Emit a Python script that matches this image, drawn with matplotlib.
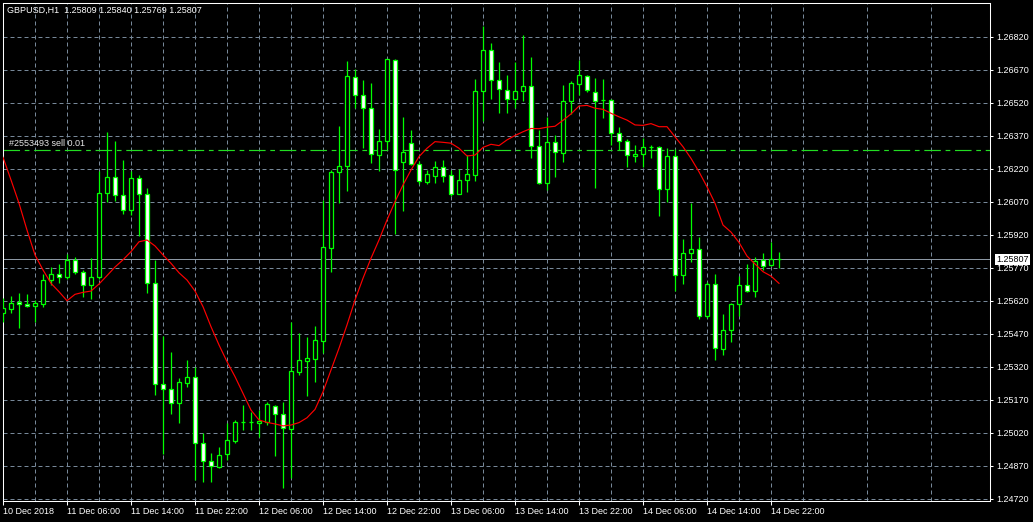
import matplotlib
matplotlib.use("Agg")
import matplotlib.pyplot as plt
import matplotlib.transforms as mtransforms
import numpy as np

plt.rcParams['font.family'] = ['Liberation Sans', 'DejaVu Sans']

# chart data (H1 bars, 10 Dec 2018 22:00 .. 14 Dec 2018 23:00)
title_text = "GBPUSD,H1  1.25809 1.25840 1.25769 1.25807"
order_label = "#2553493 sell 0.01"
order_price = 1.26303
last_price = 1.25807

opens = [1.25565, 1.25583, 1.25612, 1.25604, 1.25594, 1.25605, 1.25712, 1.25739, 1.25725, 1.25803,
         1.25748, 1.25689, 1.25725, 1.26107, 1.26180, 1.26098, 1.26030, 1.26175, 1.26103, 1.25698,
         1.25239, 1.25216, 1.25153, 1.25246, 1.25271, 1.24971, 1.24889, 1.24865, 1.24921, 1.24983,
         1.25066, 1.25066, 1.25065, 1.25069, 1.25142, 1.25103, 1.25035, 1.25296, 1.25346, 1.25355,
         1.25437, 1.25860, 1.26203, 1.26230, 1.26635, 1.26553, 1.26494, 1.26280, 1.26344, 1.26712,
         1.26248, 1.26334, 1.26239, 1.26160, 1.26187, 1.26225, 1.26189, 1.26105, 1.26166, 1.26189,
         1.26571, 1.26757, 1.26621, 1.26575, 1.26535, 1.26571, 1.26594, 1.26321, 1.26153, 1.26339,
         1.26289, 1.26525, 1.26606, 1.26639, 1.26566, 1.26530, 1.26530, 1.26380, 1.26344, 1.26278,
         1.26288, 1.26318, 1.26316, 1.26125, 1.26275, 1.25735, 1.25835, 1.25853, 1.25551, 1.25694,
         1.25398, 1.25485, 1.25603, 1.25689, 1.25662, 1.25803, 1.25780, 1.25809]
highs = [1.25630, 1.25640, 1.25653, 1.25650, 1.25622, 1.25740, 1.25771, 1.25785, 1.25830, 1.25819,
         1.25760, 1.25812, 1.26210, 1.26385, 1.26345, 1.26259, 1.26210, 1.26190, 1.26130, 1.25804,
         1.25459, 1.25386, 1.25269, 1.25350, 1.25316, 1.25019, 1.24925, 1.24954, 1.25065, 1.25077,
         1.25145, 1.25115, 1.25122, 1.25157, 1.25145, 1.25159, 1.25524, 1.25471, 1.25455, 1.25504,
         1.26077, 1.26213, 1.26413, 1.26709, 1.26672, 1.26622, 1.26609, 1.26400, 1.26719, 1.26716,
         1.26453, 1.26395, 1.26256, 1.26215, 1.26255, 1.26259, 1.26213, 1.26216, 1.26283, 1.26625,
         1.26866, 1.26790, 1.26704, 1.26644, 1.26704, 1.26827, 1.26727, 1.26395, 1.26454, 1.26372,
         1.26600, 1.26618, 1.26713, 1.26645, 1.26630, 1.26627, 1.26536, 1.26409, 1.26353, 1.26327,
         1.26357, 1.26327, 1.26324, 1.26312, 1.26309, 1.25898, 1.26062, 1.25907, 1.25705, 1.25739,
         1.25559, 1.25610, 1.25731, 1.25786, 1.25816, 1.25837, 1.25885, 1.25840]
lows = [1.25524, 1.25565, 1.25496, 1.25589, 1.25521, 1.25592, 1.25690, 1.25698, 1.25718, 1.25739,
        1.25637, 1.25628, 1.25718, 1.26066, 1.26072, 1.26015, 1.26010, 1.25913, 1.25654, 1.25190,
        1.24921, 1.25103, 1.25065, 1.25228, 1.24804, 1.24796, 1.24796, 1.24860, 1.24895, 1.24974,
        1.25031, 1.25031, 1.25001, 1.25053, 1.24915, 1.24769, 1.24812, 1.25281, 1.25186, 1.25251,
        1.25383, 1.25751, 1.26062, 1.26119, 1.26494, 1.26315, 1.26246, 1.26210, 1.26309, 1.25921,
        1.26027, 1.26236, 1.26150, 1.26151, 1.26154, 1.26160, 1.26096, 1.26103, 1.26115, 1.26163,
        1.26437, 1.26537, 1.26474, 1.26474, 1.26495, 1.26527, 1.26270, 1.26148, 1.26122, 1.26181,
        1.26250, 1.26468, 1.26554, 1.26569, 1.26133, 1.26451, 1.26327, 1.26302, 1.26228, 1.26250,
        1.26228, 1.26268, 1.26005, 1.26069, 1.25663, 1.25694, 1.25793, 1.25535, 1.25539, 1.25350,
        1.25372, 1.25433, 1.25551, 1.25659, 1.25637, 1.25759, 1.25777, 1.25769]
closes = [1.25585, 1.25607, 1.25603, 1.25594, 1.25607, 1.25712, 1.25739, 1.25725, 1.25804, 1.25748,
          1.25689, 1.25727, 1.26107, 1.26180, 1.26098, 1.26030, 1.26175, 1.26103, 1.25698, 1.25239,
          1.25216, 1.25153, 1.25248, 1.25271, 1.24971, 1.24892, 1.24868, 1.24916, 1.24985, 1.25066,
          1.25066, 1.25066, 1.25072, 1.25148, 1.25103, 1.25039, 1.25298, 1.25348, 1.25359, 1.25439,
          1.25862, 1.26204, 1.26230, 1.26639, 1.26553, 1.26494, 1.26285, 1.26344, 1.26716, 1.26212,
          1.26294, 1.26239, 1.26161, 1.26195, 1.26225, 1.26187, 1.26103, 1.26166, 1.26194, 1.26571,
          1.26757, 1.26621, 1.26580, 1.26535, 1.26571, 1.26594, 1.26321, 1.26153, 1.26339, 1.26294,
          1.26525, 1.26607, 1.26644, 1.26579, 1.26529, 1.26530, 1.26380, 1.26344, 1.26280, 1.26285,
          1.26316, 1.26318, 1.26125, 1.26279, 1.25735, 1.25835, 1.25853, 1.25551, 1.25694, 1.25403,
          1.25486, 1.25603, 1.25689, 1.25662, 1.25798, 1.25779, 1.25807, 1.25807]
# moving average (red line)
ma = [1.26271, 1.26168, 1.26062, 1.25940, 1.25827, 1.25759, 1.25698, 1.25660, 1.25619, 1.25648,
      1.25657, 1.25663, 1.25695, 1.25733, 1.25772, 1.25805, 1.25842, 1.25887, 1.25895, 1.25868,
      1.25827, 1.25789, 1.25746, 1.25713, 1.25663, 1.25592, 1.25501, 1.25418, 1.25342, 1.25274,
      1.25198, 1.25122, 1.25077, 1.25066, 1.25059, 1.25050, 1.25054, 1.25065, 1.25087, 1.25125,
      1.25205, 1.25304, 1.25403, 1.25509, 1.25622, 1.25721, 1.25812, 1.25895, 1.25986, 1.26069,
      1.26145, 1.26213, 1.26274, 1.26312, 1.26342, 1.26339, 1.26335, 1.26312, 1.26277, 1.26281,
      1.26316, 1.26330, 1.26324, 1.26350, 1.26370, 1.26387, 1.26402, 1.26401, 1.26408, 1.26412,
      1.26439, 1.26468, 1.26504, 1.26507, 1.26494, 1.26489, 1.26471, 1.26455, 1.26440, 1.26418,
      1.26416, 1.26424, 1.26410, 1.26410, 1.26364, 1.26319, 1.26266, 1.26205, 1.26137, 1.26062,
      1.25963, 1.25931, 1.25884, 1.25822, 1.25786, 1.25751, 1.25731, 1.25698]

xtick_labels = ["10 Dec 2018", "11 Dec 06:00", "11 Dec 14:00", "11 Dec 22:00", "12 Dec 06:00",
                "12 Dec 14:00", "12 Dec 22:00", "13 Dec 06:00", "13 Dec 14:00", "13 Dec 22:00",
                "14 Dec 06:00", "14 Dec 14:00", "14 Dec 22:00"]
ytick_values = [1.24720, 1.24870, 1.25020, 1.25170, 1.25320, 1.25470, 1.25620, 1.25770,
                1.25920, 1.26070, 1.26220, 1.26370, 1.26520, 1.26670, 1.26820]

GREEN = '#00ff00'
GRID = '#778899'
LW = 0.72      # one pixel at 100 dpi
CANDLE_LW = 0.9

fig = plt.figure(figsize=(10.33, 5.22), dpi=100, facecolor='black')
ax = fig.add_axes([2.5/1033, 21/522, 987.5/1033, 498.5/522], facecolor='black')

x = np.arange(len(opens))
o = np.array(opens); h = np.array(highs); l = np.array(lows); c = np.array(closes)
up = c >= o
lo = np.minimum(o, c)
hgt = np.abs(c - o)

# wicks, then bull (black) and bear (white) bodies with green outline
wicks = ax.vlines(x, l, h, color=GREEN, lw=CANDLE_LW, zorder=3)
wicks.set_snap(True)
bull = ax.bar(x[up], hgt[up], bottom=lo[up], width=0.5, color='black',
              edgecolor=GREEN, lw=CANDLE_LW, zorder=4)
bear = ax.bar(x[~up], hgt[~up], bottom=lo[~up], width=0.5, color='white',
              edgecolor=GREEN, lw=CANDLE_LW, zorder=4)
for p in list(bull) + list(bear):
    p.set_snap(True)
ax.plot(x, ma, color='#ff0000', lw=0.85, zorder=5)

# order line and bid line
ax.axhline(order_price, color='#22dd22', lw=0.85, dashes=(14, 4, 4, 4), zorder=2, snap=True)
ax.text(0.8, order_price + 0.00029, order_label, color='#e6e6e6', fontsize=6.5,
        va='center', ha='left', zorder=6)
ax.axhline(last_price, color='#8c98a4', lw=LW, zorder=2, snap=True)

ax.set_xlim(-0.0625, 123.375)
ax.set_ylim(1.2470864, 1.2697455)

# axes, ticks, grid
ax.set_xticks(np.arange(0, 97, 8), xtick_labels)
ax.set_xticks(np.arange(4, 121, 8), minor=True)
for lbl in ax.get_xticklabels():
    lbl.set_horizontalalignment('left')
ax.tick_params(axis='x', which='major', length=3, width=0.75, pad=1.5, colors='white', labelsize=6.5)
ax.tick_params(axis='x', which='minor', length=0)
ax.yaxis.tick_right()
ax.set_yticks(ytick_values, [f"{v:.5f}" for v in ytick_values])
ax.tick_params(axis='y', length=2.2, width=0.75, pad=2.5, colors='white', labelsize=6.5)
ax.grid(which='both', axis='x', color=GRID, lw=LW, dashes=(4, 3), zorder=1)
ax.grid(axis='y', color=GRID, lw=LW, dashes=(4, 3), zorder=1)
ax.set_axisbelow(True)
for sp in ax.spines.values():
    sp.set_color('white')
    sp.set_linewidth(0.75)

trans = mtransforms.blended_transform_factory(ax.transAxes, ax.transData)
ax.text(1 + 6.5/987.5, last_price, f"{last_price:.5f}", transform=trans, color='black',
        fontsize=6.5, va='center', ha='left', clip_on=False, zorder=10,
        bbox=dict(boxstyle='square,pad=0.15', fc='white', ec='none'))

fig.text(7/1033, 1 - 10.7/522, title_text, color='white', fontsize=6.5, va='center', ha='left')

fig.savefig("out.png", dpi=100, facecolor='black')
